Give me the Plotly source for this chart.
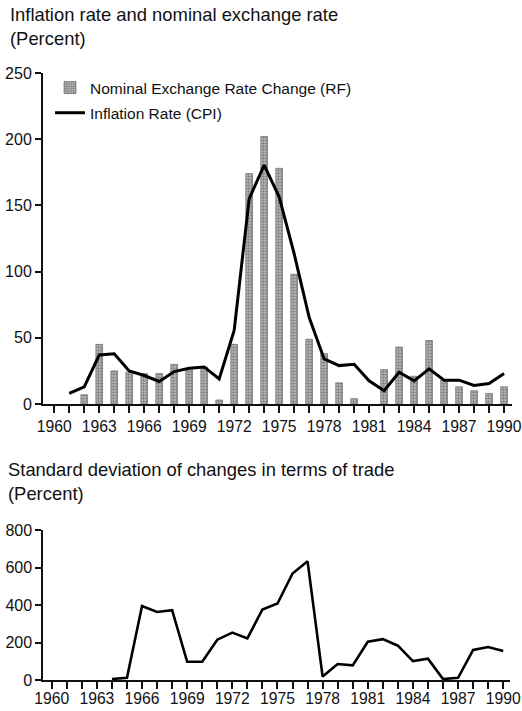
import plotly.graph_objects as go

# ---- data ----
years = list(range(1961, 1991))
fx_years = [1962, 1963, 1964, 1965, 1966, 1967, 1968, 1969, 1970, 1971, 1972, 1973,
            1974, 1975, 1976, 1977, 1978, 1979, 1980, 1982, 1983, 1984, 1985, 1986,
            1987, 1988, 1989, 1990]
fx_change = [7, 45, 25, 24, 23, 23, 30, 27, 28, 3, 45, 174,
             202, 178, 98, 49, 38, 16, 4, 26, 43, 21, 48, 18,
             13, 10, 8, 13]
cpi_inflation = [8, 13, 37, 38, 25, 21.5, 17, 24.5, 27, 28, 19, 55.5,
                 155, 180.5, 156.5, 113.5, 65.5, 34, 29, 30, 17.5, 10,
                 24, 17.5, 26.5, 18, 18, 14, 15.5, 23]
tot_years = list(range(1964, 1991))
tot_sd = [5, 12, 395, 363, 372, 97, 97, 215, 253, 222, 376, 408,
          568, 633, 18, 85, 78, 204, 218, 183, 101, 114, 5, 12,
          160, 176, 155]

top_title = "Inflation rate and nominal exchange rate<br>(Percent)"
bottom_title = "Standard deviation of changes in terms of trade<br>(Percent)"
x_tickvals = list(range(1960, 1991, 3))
top_yticks = [0, 50, 100, 150, 200, 250]
bottom_yticks = [0, 200, 400, 600, 800]

FONT = "Liberation Sans, Arial, Helvetica, sans-serif"
INK = "#111111"
FW, FH = 522, 711


def px(x):
    return x / FW


def py(y):
    return 1 - y / FH


fig = go.Figure()
fig.add_trace(go.Bar(
    x=fx_years, y=fx_change, name="Nominal Exchange Rate Change (RF)",
    width=0.45, xaxis="x", yaxis="y",
    marker=dict(color="#b0b0b0", line=dict(color="#5a5a5a", width=0.6),
                pattern=dict(shape=".", fgcolor="#444444", bgcolor="#bdbdbd",
                             size=3, solidity=0.5)),
    legendgroup="a",
))
fig.add_trace(go.Scatter(
    x=years, y=cpi_inflation, name="Inflation Rate (CPI)", mode="lines",
    line=dict(color="#000000", width=3), xaxis="x", yaxis="y",
    legendgroup="b",
))
fig.add_trace(go.Scatter(
    x=tot_years, y=tot_sd, mode="lines", showlegend=False,
    line=dict(color="#000000", width=2.6), xaxis="x2", yaxis="y2",
))


def xaxis(domain, rng, anchor, standoff=0):
    return dict(domain=domain, range=rng, anchor=anchor, automargin=False,
                tickmode="array", tickvals=x_tickvals,
                ticks="outside", ticklen=7, tickwidth=1.5, tickcolor=INK,
                minor=dict(dtick=1, tick0=1960, ticks="outside", ticklen=7,
                           tickwidth=1.5, tickcolor=INK),
                ticklabelstandoff=standoff,
                showline=True, linecolor=INK, linewidth=2,
                showgrid=False, zeroline=False,
                tickfont=dict(size=15.7, color=INK, family=FONT))


def yaxis(domain, rng, vals, anchor):
    return dict(domain=domain, range=rng, anchor=anchor, automargin=False,
                tickmode="array", tickvals=vals,
                ticks="outside", ticklen=6, tickwidth=1.5, tickcolor=INK,
                showline=True, linecolor=INK, linewidth=2,
                showgrid=False, zeroline=False,
                tickfont=dict(size=16, color=INK, family=FONT))


fig.update_layout(
    width=FW, height=FH,
    margin=dict(l=0, r=0, t=0, b=0, autoexpand=False),
    paper_bgcolor="white", plot_bgcolor="white",
    font=dict(family=FONT, color=INK),
    xaxis=xaxis([px(43), px(511.7)], [1959.25, 1990.51], "y"),
    yaxis=yaxis([py(404), py(73)], [0, 250], top_yticks, "x"),
    xaxis2=xaxis([px(43.3), px(510)], [1959.44, 1990.45], "y2", standoff=-4),
    yaxis2=yaxis([py(680), py(530)], [0, 800], bottom_yticks, "x2"),
    showlegend=True,
    legend=dict(x=px(50), y=py(71), xanchor="left", yanchor="top",
                bgcolor="rgba(0,0,0,0)", traceorder="grouped", tracegroupgap=2,
                font=dict(size=15.5, color=INK, family=FONT)),
    annotations=[
        dict(text=top_title, xref="paper", yref="paper", x=px(8), y=py(2),
             xanchor="left", yanchor="top", align="left", showarrow=False,
             font=dict(size=18.4, color=INK, family=FONT)),
        dict(text=bottom_title, xref="paper", yref="paper", x=px(6), y=py(456.5),
             xanchor="left", yanchor="top", align="left", showarrow=False,
             font=dict(size=18.4, color=INK, family=FONT)),
    ],
)

fig.write_html("out.html",
               config={"displayModeBar": False},
               post_script="document.body.style.margin='0';"
                           "document.body.style.overflow='hidden';")
